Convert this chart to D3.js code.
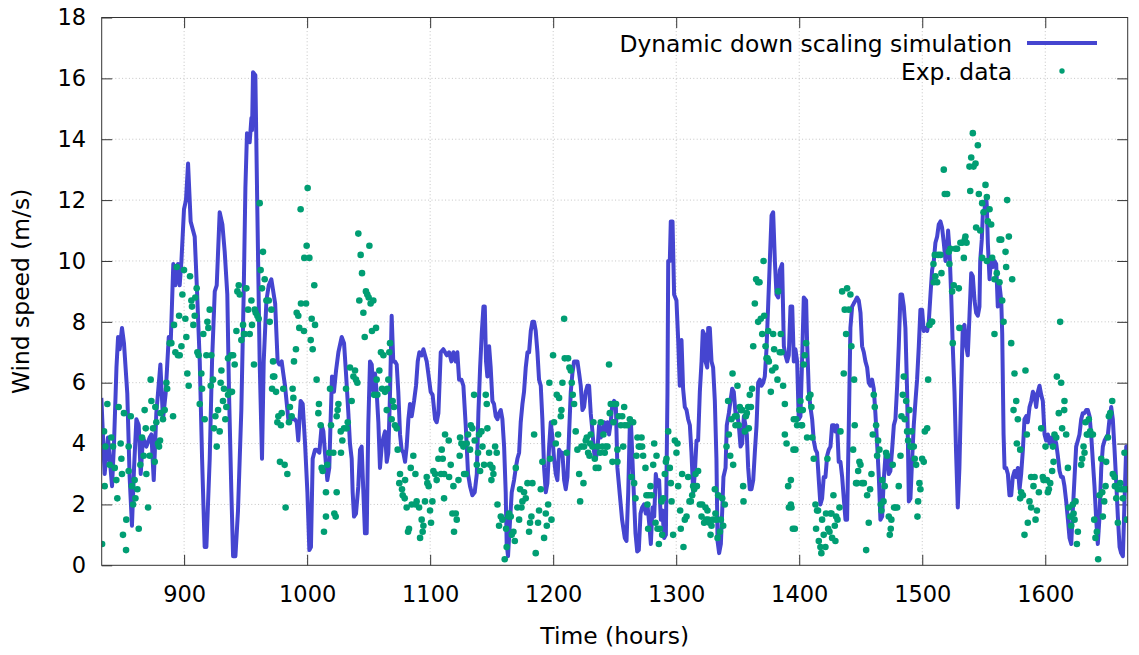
<!DOCTYPE html>
<html>
<head>
<meta charset="utf-8">
<script src="https://cdn.jsdelivr.net/npm/d3@7"></script>
<style>
  html, body { margin: 0; padding: 0; background: #fff; }
  svg { display: block; font-family: "DejaVu Sans", sans-serif; }
  .axis text { font-size: 22.5px; fill: #000; }
  .axis line { stroke: #333; }
  .grid line { stroke: #c4c4c4; stroke-dasharray: 1,2.4; }
</style>
</head>
<body>
<div class="chart"></div>
<script>
// values: [hour, wind speed m/s]
const simulation = [
  [832.7,5.5],[835.4,3.0],[838.1,4.2],[841.4,2.6],[843,4.0],[845,6.5],[846.3,7.5],[847.6,7.1],[849.5,7.8],[851.1,7.3],
  [853.8,5.65],[855.7,2.9],[857.6,1.3],[859.3,3.2],[861.2,4.8],[863.1,4.6],[864.7,3.0],[866.6,4.2],[869.3,3.9],[872,4.2],
  [873.4,4.3],[875.3,2.8],[877.4,5.0],[880.7,6.6],[882.8,4.8],[885,5.65],[887.5,7.5],[889.1,7.3],[891.2,9.9],[892.9,9.2],
  [895,9.9],[896.4,9.2],[897.8,10.0],[899.9,11.7],[901.5,12.0],[903.2,13.2],[905.3,11.3],[908.6,10.8],[910.5,9.0],[912.7,6.7],
  [914.6,3.5],[916.7,0.6],[918.1,0.6],[920.8,3.5],[922.7,6.7],[924.9,9.0],[926.5,9.2],[928.9,11.6],[931.1,11.2],[933,10.3],
  [935.1,8.9],[936.5,5.65],[938.4,2.4],[939.8,0.3],[941.7,0.3],[943.8,1.8],[946.5,5.1],[948.4,8.9],[949.8,12.4],[951.1,14.2],
  [953.3,13.9],[954.7,14.7],[955.2,14.3],[956,16.2],[957.9,16.1],[959.5,11.7],[961.4,6.7],[963.3,3.5],[964.7,6.7],[966.9,8.7],
  [968.8,9.2],[970.9,9.4],[974,8.6],[976,6.7],[977.4,6.6],[979.3,6.7],[980.6,6.3],[982,5.9],[984.7,4.8],[987.4,4.8],
  [990,4.8],[991.5,4.7],[992.8,4.1],[994.7,5.4],[996.4,5.3],[998.3,4.0],[1000.2,2.4],[1001.8,0.5],[1003.1,0.6],[1004.5,3.5],
  [1006.4,3.8],[1007.7,3.8],[1009.9,3.7],[1011.8,4.6],[1013.2,4.4],[1014.5,3.7],[1016.4,2.8],[1018,3.2],[1019.1,4.8],[1020.2,6.2],
  [1021.8,5.7],[1023.5,6.4],[1025.4,7.0],[1028.1,7.5],[1030,7.3],[1031.6,6.3],[1033.5,5.0],[1034.8,4.0],[1036.2,3.5],[1037,2.4],
  [1038.1,1.6],[1039.7,1.7],[1041.6,2.6],[1043,3.8],[1044.3,3.9],[1045.7,2.4],[1047,1.05],[1048.4,1.05],[1049.7,4.6],[1051.1,6.7],
  [1052.5,6.6],[1053.8,5.7],[1055.2,6.3],[1056.5,5.7],[1057.9,4.7],[1059.2,3.2],[1060.6,3.9],[1062,4.2],[1063.3,4.4],[1064.7,3.4],
  [1066,3.7],[1067.4,5.7],[1068.7,8.2],[1070,6.7],[1071.4,6.7],[1072.8,6.6],[1074.1,5.7],[1075.5,4.3],[1076.8,3.8],[1078.2,3.7],
  [1079.6,3.4],[1080.9,3.9],[1082.3,4.8],[1083.6,5.3],[1085,4.9],[1086.9,5.4],[1088.5,5.9],[1089.9,6.7],[1091.2,7.0],[1093.1,6.9],
  [1094.5,7.1],[1095.8,6.9],[1097.2,6.7],[1098.5,6.3],[1100.4,5.7],[1102,5.6],[1104,4.8],[1105.3,4.7],[1106.7,5.0],[1108.6,7.0],
  [1110.7,7.1],[1113.5,6.9],[1115.4,7.0],[1117.3,6.7],[1118.9,7.0],[1120.8,6.7],[1122.1,7.0],[1123.5,6.1],[1125.4,6.1],[1127,5.9],
  [1128.9,4.6],[1130.8,3.0],[1132.4,2.6],[1134.3,2.3],[1136.2,2.4],[1137.9,3.0],[1139.2,5.0],[1140.6,6.5],[1141.9,7.6],[1143.3,8.5],
  [1144.4,8.5],[1145.4,6.7],[1146.5,6.2],[1147.9,7.2],[1149.2,6.5],[1150.6,5.4],[1151.9,5.3],[1153.3,4.9],[1154.7,4.8],[1156,5.0],
  [1157.4,5.1],[1158.7,4.8],[1160.1,3.9],[1161.4,2.4],[1162.2,0.7],[1163.3,0.3],[1164.7,1.3],[1166.3,2.4],[1168.2,2.8],[1169.6,3.2],
  [1170.9,3.5],[1172.3,3.7],[1173.6,4.7],[1175,5.3],[1176.3,5.7],[1177.7,6.5],[1179.1,7.0],[1180.4,7.0],[1181.8,7.7],[1183.1,8.0],
  [1184.5,8.0],[1185.8,7.7],[1187.2,7.0],[1188.5,6.1],[1189.9,5.9],[1191.2,4.8],[1192.6,3.2],[1194,2.4],[1195.3,2.7],[1196.7,3.9],
  [1198,4.7],[1199.4,4.2],[1200.7,3.5],[1202.1,3.0],[1203.4,2.8],[1204.8,3.8],[1206.2,3.7],[1207.5,3.7],[1208.9,2.8],[1210.2,2.5],
  [1211.6,2.9],[1212.9,4.3],[1214.3,5.7],[1215.6,6.3],[1217,6.7],[1218.3,6.7],[1219.7,6.7],[1221.1,6.3],[1222.4,5.9],[1223.8,5.1],
  [1225.1,5.2],[1226.5,5.7],[1227.8,5.9],[1229.2,5.9],[1230.5,5.0],[1231.9,4.4],[1233.3,3.7],[1234.6,3.5],[1236,3.8],[1237.3,4.6],
  [1238.7,4.2],[1240,4.4],[1241.4,4.7],[1242.7,4.4],[1244.1,4.7],[1245.4,4.3],[1246.8,4.7],[1248.1,5.3],[1249.5,5.4],[1250.9,5.3],
  [1252.2,3.2],[1254.2,2.3],[1256,1.5],[1258.2,0.9],[1259.6,0.8],[1261,2.4],[1262.3,4.6],[1263.1,4.8],[1264.2,3.7],[1265.5,2.4],
  [1266.9,1.05],[1268.3,0.45],[1269.6,0.5],[1271,1.7],[1272.3,1.9],[1273.9,2.0],[1275.3,1.7],[1276.6,2.0],[1278,1.4],[1279.4,0.7],
  [1280.7,1.9],[1282.1,1.6],[1283.4,3.0],[1284.8,2.6],[1286.1,2.8],[1287.5,1.5],[1288.8,1.8],[1290.2,0.9],[1291.6,1.0],[1292.9,5.7],
  [1293.5,10.0],[1294.8,10.0],[1295.6,11.3],[1297,11.3],[1298.3,8.9],[1300.2,8.7],[1301.6,7.4],[1302.9,5.9],[1304.3,7.4],[1305.6,5.8],
  [1307,5.2],[1308.4,5.1],[1309.7,4.8],[1311.1,4.6],[1312.4,3.7],[1313.8,2.4],[1315.1,3.0],[1316.5,4.1],[1317.8,4.1],[1319.2,5.7],
  [1320.6,6.7],[1321.6,7.7],[1322.7,7.6],[1323.8,6.7],[1325.2,6.5],[1326,7.8],[1327.3,7.8],[1328.7,6.7],[1330,6.5],[1331.4,5.4],
  [1332.7,3.5],[1333.6,0.8],[1334.9,0.4],[1336.3,0.7],[1337.4,1.8],[1338.4,2.9],[1340.1,3.2],[1341.1,4.6],[1342.8,5.0],[1344.1,5.4],
  [1345.5,5.8],[1346.8,5.7],[1348.2,5.0],[1349.5,5.0],[1350.9,4.6],[1352.3,3.9],[1353.6,4.0],[1355,4.9],[1356.3,4.6],[1357.4,4.3],
  [1358.5,3.2],[1359.8,2.5],[1361.2,2.5],[1362.6,2.8],[1363.9,3.7],[1365.3,4.6],[1366.6,6.0],[1368,6.1],[1369.3,5.9],[1370.7,6.0],
  [1372,6.2],[1373.4,7.1],[1374.8,8.6],[1376.1,10.0],[1377.5,11.5],[1378.8,11.6],[1380.2,10.0],[1381.5,8.9],[1382.9,8.8],[1384.2,9.7],
  [1386.1,9.9],[1387.5,7.2],[1388.8,6.9],[1390.2,6.7],[1391.5,6.9],[1392.9,8.5],[1394.3,8.5],[1395.6,6.7],[1396.9,7.1],[1398.3,6.7],
  [1399.6,4.8],[1401,4.9],[1402.3,6.7],[1403.7,8.8],[1405.6,8.7],[1406.4,7.3],[1407.8,5.7],[1409.1,5.2],[1410.5,4.8],[1411.8,4.1],
  [1413.2,3.8],[1414.5,3.7],[1415.9,2.8],[1417.2,2.0],[1418.6,2.2],[1419.9,2.9],[1421.3,2.9],[1422.7,3.6],[1424,3.8],[1425.4,3.9],
  [1426.7,4.6],[1428.1,4.6],[1429.4,4.4],[1430.8,4.6],[1432.1,3.4],[1433.5,3.4],[1434.9,2.9],[1436.2,2.2],[1437.6,1.5],[1438.9,1.5],
  [1440.3,4.6],[1441.6,7.8],[1443,8.5],[1444.3,8.6],[1445.7,8.7],[1447,8.8],[1448.4,8.7],[1449.8,8.3],[1451.1,7.2],[1452.5,7.0],
  [1453.8,6.7],[1455.2,6.5],[1456.5,6.0],[1457.9,5.9],[1459.2,6.1],[1460.6,5.8],[1461.9,5.0],[1463.3,4.0],[1464.7,2.9],[1466,1.5],
  [1467.4,1.6],[1468.7,2.8],[1470.1,3.6],[1471.4,3.7],[1472.8,3.0],[1474.1,3.1],[1475.5,3.8],[1476.9,4.6],[1478.2,4.8],[1479.6,5.9],
  [1480.9,7.2],[1482.3,8.9],[1483.6,8.9],[1485,8.5],[1486.3,7.8],[1487.7,5.7],[1489.1,2.1],[1490.4,2.2],[1491.8,3.5],[1493.1,4.6],
  [1494.5,5.4],[1495.8,6.1],[1497.2,7.2],[1498.5,8.4],[1499.9,8.4],[1501.2,7.7],[1502.6,7.8],[1504,7.7],[1505.3,8.0],[1506.7,8.9],
  [1508,9.7],[1509.4,10.0],[1510.7,10.6],[1512.1,10.8],[1513.4,11.2],[1514.8,11.3],[1516.1,11.1],[1517.5,10.6],[1518.9,10.0],[1520.2,10.4],
  [1521,11.0],[1522.1,10.4],[1523.5,8.9],[1524.8,7.2],[1526.2,5.7],[1527.5,3.7],[1528.9,1.9],[1530.2,3.2],[1531.6,5.7],[1532.9,7.8],
  [1534.3,7.9],[1535.7,7.2],[1537,6.9],[1538.4,8.2],[1539.8,9.6],[1541.1,9.5],[1542.5,8.7],[1543.8,8.3],[1545.2,8.2],[1546.5,8.5],
  [1547.1,10.0],[1548.4,10.7],[1549.3,11.6],[1550.6,11.7],[1552,12.1],[1552.5,11.8],[1553.3,10.6],[1554.7,9.4],[1556,10.1],[1557.4,9.8],
  [1558.7,10.0],[1560.1,9.9],[1561.4,8.5],[1562.8,9.2],[1564.2,8.7],[1565,7.6],[1566.1,4.3],[1566.9,3.2],[1568.2,3.2],[1569.6,3.0],
  [1570.9,2.3],[1572.3,2.3],[1573.6,2.9],[1575,3.1],[1576.4,2.9],[1577.7,3.2],[1579.1,2.5],[1580.4,3.0],[1581.8,3.8],[1583.1,4.8],
  [1584.5,4.9],[1585.8,4.7],[1587.2,5.2],[1588.6,5.4],[1589.9,5.7],[1591.3,5.6],[1592.6,5.2],[1594,5.7],[1595.3,5.9],[1596.7,5.6],
  [1598,5.4],[1599.4,4.3],[1600.7,4.1],[1602.1,4.3],[1603.5,4.0],[1604.8,4.2],[1606.2,3.9],[1607.5,4.2],[1608.9,4.0],[1610.2,3.6],
  [1611.6,3.1],[1612.9,2.9],[1614.3,2.9],[1615.6,2.6],[1617,2.1],[1618.4,1.5],[1619.7,0.9],[1621.1,0.7],[1622.4,1.8],[1623.8,2.9],
  [1625.1,3.9],[1626.5,4.1],[1627.8,4.3],[1629.2,4.8],[1630.5,5.0],[1631.9,5.0],[1633.3,5.1],[1634.6,5.1],[1636,4.9],[1637.3,4.3],
  [1638.7,3.4],[1640,2.6],[1641.4,1.5],[1642.7,0.7],[1644.1,1.6],[1645.5,3.2],[1646.8,3.9],[1648.2,4.1],[1649.5,4.2],[1650.9,4.3],
  [1652.2,4.8],[1653.6,5.2],[1654.9,4.8],[1656.3,3.8],[1657.7,2.7],[1659,1.6],[1660.4,0.6],[1661.7,0.4],[1663.1,0.3],[1664.4,2.1],
  [1665.8,3.9],[1667.1,3.9]
];

const experiment = [
  [833.3,0.7],[835.4,2.6],[837.6,5.3],[834.9,4.4],[836,3.9],[840.8,4.2],[842.2,3.9],[839.5,3.3],[843.6,3.2],[844.9,2.8],
  [845.7,2.2],[846.8,5.2],[848.4,4.0],[849,3.5],[849.5,3.0],[851.1,5.0],[850.3,1.0],[853,1.5],[852.8,0.5],[854.9,3.9],
  [854.9,3.1],[856.6,4.9],[857.6,2.6],[858.5,2.0],[859.8,2.8],[860.4,2.2],[862,2.5],[863.1,1.2],[864.4,3.3],[865.8,4.2],
  [867.1,3.6],[867.9,5.1],[868.8,4.5],[869.3,3.0],[870.7,1.9],[872,3.6],[872.8,6.1],[873.4,5.4],[874.7,4.5],[876.6,5.2],
  [876.1,3.4],[877.4,4.7],[878.8,4.0],[879.6,3.9],[880.4,4.1],[880.9,5.0],[882.8,4.8],[884.2,5.1],[885.6,6.0],[886.2,5.8],
  [888.3,7.3],[889.6,7.3],[891,4.9],[891.8,7.9],[892.9,7.0],[894,9.8],[895,6.9],[896.4,6.9],[895.9,8.2],[897.8,7.2],
  [898.6,8.9],[899.9,9.7],[901,8.1],[901.8,7.5],[902.6,6.3],[903.7,5.9],[904.8,9.5],[905.9,8.7],[906.4,8.5],[907.5,7.9],
  [908.6,8.2],[909.1,8.8],[910.2,9.1],[910.8,7.0],[911.8,6.9],[912.7,5.3],[914,6.3],[914.6,5.8],[915.6,7.6],[916.7,4.8],
  [918.1,6.9],[918.9,8.0],[919.7,7.8],[920.8,8.4],[921.6,5.9],[922.1,6.9],[923.5,6.1],[924.3,4.5],[925.4,4.9],[926.5,3.9],
  [927.6,5.1],[928.9,4.4],[929.7,6.0],[930.3,6.4],[931.6,5.4],[932.4,5.8],[933.5,4.8],[934.3,5.2],[935.7,6.8],[935.7,5.6],
  [937,5.7],[938.4,6.9],[938.9,5.7],[939.8,6.9],[941.1,6.6],[942.5,7.7],[943.3,9.0],[944.4,9.2],[945.2,8.9],[946.5,7.4],
  [947.9,7.9],[948.7,7.6],[949.2,7.6],[950.6,9.1],[952,8.4],[953.3,7.6],[954.7,8.7],[955.2,7.9],[956.8,6.6],[957.4,8.4],
  [958.2,8.3],[959.5,8.2],[960.6,8.1],[961.4,11.9],[962.2,9.7],[963.3,9.1],[964.1,10.3],[965.5,9.4],[966.9,8.7],[968.8,8.7],
  [969.6,8.0],[970.9,8.4],[972.3,6.7],[972.3,6.2],[971.5,5.8],
  [1000.4,12.4],[994.7,11.7],[999.6,10.5],[997.7,10.1],[1001.8,10.1],[1005.8,9.2],[995,8.6],[999.1,8.6],[991.5,8.3],[992.8,8.2],
  [993.6,7.8],[997.4,7.7],[1003.7,8.1],[1006.4,7.9],[1002.9,7.4],[1004.5,7.1],[990.9,7.1],[989.3,6.7],[973.3,6.2],[974.7,5.7],
  [980.6,5.8],[976.6,4.9],[979.3,5.0],[975.8,4.7],[978.7,4.6],[986,5.2],[987.4,4.9],[985.2,4.7],[988.2,5.8],[988.8,5.5],
  [1007.7,6.1],[1009.6,5.3],[1009.1,5.0],[1011,4.6],[1018.6,5.8],[1019.4,4.6],[1025.4,5.3],[1024.8,5.1],[1024,4.9],[1031.6,5.8],
  [1033,4.7],[1034.8,6.5],[1036.2,5.4],[1038.9,6.4],[1037.6,6.2],[1039.7,6.1],[1040.8,6.0],[1030,4.5],[1027.3,4.4],[1028.6,4.1],
  [1032.1,4.5],[1041.6,10.9],[1043.5,10.2],[1050.6,10.5],[1044.6,9.6],[1047.8,9.0],[1048.9,8.9],[1050,8.8],[1042.4,8.7],[1051.6,8.6],
  [1053.8,8.7],[1045.7,8.3],[1056,7.8],[1052.7,7.7],[1046.8,7.5],[1060,7.0],[1062,6.9],[1067.4,7.3],[1066.8,7.0],[1058.7,6.4],
  [1056.5,6.1],[1054.4,5.6],[1057.1,5.6],[1060.9,5.8],[1063.3,5.7],[1065.2,5.8],[1066,6.1],[1069.5,5.4],[1070.6,5.2],[1064.7,5.1],
  [1068.7,4.8],[1071.4,4.6],[1072.8,4.5],[1073.6,3.8],[977.9,3.4],[981.7,3.3],[983.9,3.0],[982.5,1.9],[1012.6,3.1],[1011.8,3.2],
  [1016.4,3.3],[1018,3.7],[1021.3,3.7],[1027.5,3.7],[1015.3,2.4],[1024,2.4],[1022.1,1.7],[1023.2,1.6],[1015.3,1.6],[1013.7,1.1],
  [1075.5,3.0],[1074.9,2.7],[1079.6,2.8],[1077.1,2.5],[1077.7,2.3],[1079.3,2.2],[1080.9,1.9],[1084.2,3.2],[1086.3,3.6],[1088,3.0],
  [1085,2.0],[1089,2.1],[1091,1.9],[1088.2,2.0],[1095.8,2.1],[1101.8,2.1],[1099.9,1.8],[1093.1,1.5],[1094.5,1.3],[1093.9,1.1],
  [1091.8,0.9],[1100.7,1.4],[1082.8,1.2],[1082,1.1],[1097.2,2.9],[1098.8,2.6],[1097.7,2.7],[1102.6,3.1],[1104,3.0],[1105.3,2.8],
  [1106.7,3.5],[1108.8,3.0],[1111.3,3.0],[1110.2,3.5],[1109.4,3.8],[1111.3,2.2],[1112.1,4.3],
  [1115.1,4.1],[1116.7,3.3],[1115.4,2.9],[1118.9,2.6],[1123,2.8],[1118.1,1.7],[1120.8,1.7],[1121.6,1.5],[1119.4,1.1],[1124.3,4.2],
  [1125.4,4.0],[1127,3.9],[1127.6,3.0],[1128.9,3.0],[1129.7,4.0],[1130.8,4.3],[1133,4.6],[1134.3,4.5],[1132.4,3.8],[1124,3.6],
  [1135.7,5.6],[1136.2,4.1],[1137.9,3.3],[1138.9,3.7],[1139.8,4.3],[1140.6,3.1],[1141.7,4.4],[1142.5,3.9],[1143.8,3.3],[1145.2,5.6],
  [1146,5.3],[1146.5,4.5],[1147.9,3.7],[1148.7,3.3],[1150.6,3.2],[1151.4,3.0],[1149.8,2.8],[1152.8,3.9],[1154.1,3.7],[1154.7,2.0],
  [1156,1.3],[1157.4,1.6],[1158.7,1.5],[1160.6,0.2],[1162.2,0.6],[1161.7,1.2],[1163.6,1.6],[1164.1,1.7],[1165.5,1.6],[1166.3,1.0],
  [1167.7,1.1],[1168.8,0.8],[1169.6,3.2],[1170.9,1.9],[1172.3,1.5],[1173.1,2.5],[1174.2,1.9],[1175,2.1],[1176.3,2.4],[1177.7,2.2],
  [1179.1,2.7],[1180.4,1.1],[1181.2,1.4],[1182.3,1.6],[1183.1,2.7],[1184.5,4.3],[1185.8,0.4],[1187.7,1.4],[1188.5,1.8],[1189.9,2.5],
  [1191.2,3.4],[1192.6,0.9],[1194,1.7],[1194.8,1.3],[1195.9,2.0],[1197.5,3.5],[1198.6,1.5],[1196.9,6.0],[1199.9,6.9],[1200.7,4.7],
  [1202.1,4.0],[1202.9,5.6],[1204,4.3],[1204.8,5.5],[1206.2,4.9],[1206.7,5.1],[1207.5,6.0],[1208.9,8.1],[1209.4,6.8],[1211,3.7],
  [1212.1,6.8],[1213.2,6.5],[1214.3,6.4],[1215.1,6.0],[1215.9,5.6],[1217,5.3],[1218.3,4.4],[1219.7,3.8],[1221.1,3.0],[1221.9,2.1],
  [1223,3.9],[1224.6,2.7],[1225.1,3.9],[1226.5,4.1],[1227.3,4.2],[1228.4,3.7],[1229.5,3.6],[1230,4.0],[1230.5,4.3],[1231.9,3.9],
  [1232.7,4.7],[1233.8,3.5],[1234.6,3.2],[1236,3.9],[1236.8,3.2],[1238.1,3.7],[1238.7,4.7],[1240,3.9],[1240.8,4.3],[1241.9,3.7],
  [1242.7,3.9],[1244.1,3.9],[1245.4,6.6],[1246,5.0],[1246.8,5.3],[1248.2,3.4],[1249,4.7],[1250,5.3],[1251.1,5.3],[1252.2,3.4],
  [1252.2,3.8],[1253.3,4.9],
  [1257.7,5.2],[1256.1,4.9],[1255,4.6],[1258.2,4.6],[1260.4,4.6],[1262.3,4.8],[1265,4.7],[1263.6,2.9],[1265.8,2.7],[1256.9,3.9],
  [1266.9,2.2],[1268.5,4.2],[1269.6,3.9],[1270.4,3.9],[1271.8,4.2],[1272.3,3.9],[1267.7,3.6],[1273.1,3.6],[1275,3.2],[1275.8,2.3],
  [1276.6,2.0],[1277.7,2.3],[1277.2,1.2],[1279.1,2.6],[1279.9,2.3],[1281.3,3.3],[1282.1,4.0],[1283.2,1.4],[1284,3.6],[1284.8,1.2],
  [1285.9,0.7],[1286.7,1.2],[1288,2.1],[1288.6,1.0],[1289.4,2.2],[1290.7,3.0],[1291.6,3.4],[1292.1,3.5],[1293.5,4.4],[1294.8,3.2],
  [1295.6,2.7],[1296.2,2.1],[1297.5,1.0],[1298.9,4.1],[1300.2,3.7],[1301,4.0],[1301.6,2.6],[1303.2,1.8],[1303.7,1.2],[1304.8,3.0],
  [1305.9,0.6],[1307,1.5],[1308.4,1.6],[1309.7,2.9],[1310.8,2.1],[1311.9,2.1],[1313,2.3],[1313.8,2.6],[1314.6,2.5],[1315.7,3.0],
  [1316.8,2.6],[1317.8,3.1],[1319.2,2.0],[1320.6,1.6],[1321.1,2.0],[1322.7,1.4],[1323.8,1.9],[1324.3,1.5],[1325.4,1.8],[1326,1.5],
  [1327,1.4],[1327.9,1.0],[1328.7,1.3],[1330,1.5],[1331.4,2.5],[1331.9,1.7],[1332.7,1.5],[1333.6,0.9],[1334.1,2.3],[1335.5,1.1],
  [1336.3,1.5],[1337.4,2.2],[1338.2,1.3],[1339.5,2.0],[1340.9,3.9],[1342.2,5.4],[1342.8,4.3],[1343.9,3.6],[1344.9,4.8],[1345.8,6.3],
  [1346.3,3.3],[1347.7,4.9],[1348.2,4.6],[1349,4.9],[1349.8,5.9],[1350.9,4.6],[1351.7,5.2],[1352.5,5.1],[1353.6,5.1],[1354.4,2.6],
  [1354.7,2.1],[1355.8,4.4],[1356.6,4.9],[1357.4,5.0],[1358.5,5.2],[1359,4.5],[1359.8,5.6],[1360.7,5.2],[1361.7,5.8],[1362.6,7.2],
  [1363.9,8.6],[1365,9.4],[1366.6,9.3],[1367.7,9.3],[1366.6,8.0],[1368.8,8.1],[1369.9,7.6],[1371,10.0],[1371.5,8.2],[1372.6,7.2],
  [1373.4,6.8],[1374.2,6.8],[1374.8,7.7],[1375.3,6.7],[1376.9,5.7],[1378,6.4],[1378.8,7.6],[1379.6,7.1],[1380.7,6.5],[1382.3,6.1],
  [1382.9,9.0],[1384.2,7.0],[1385,7.6],[1385.6,7.0],[1386.9,5.9],[1388.3,5.3],[1388.3,4.3],[1389.7,4.0],[1391,2.6],[1391.6,1.9],
  [1393.2,2.8],[1393.2,2.0],[1393.7,1.9],[1394.8,1.2],[1395.3,3.8],[1395.6,4.8],
  [1396.4,1.2],[1396.9,3.8],[1397.5,4.8],[1398.3,4.6],[1400.2,5.1],[1401,5.4],[1401.8,4.6],[1402.3,4.6],[1402.9,5.1],[1403.7,6.6],
  [1404.5,6.9],[1405.6,7.3],[1406.4,4.2],[1407.8,5.5],[1409.1,5.6],[1409.9,5.2],[1410.5,4.2],[1411.8,3.5],[1413.2,2.0],[1413.7,1.2],
  [1414.5,1.8],[1415.3,1.8],[1415.9,0.8],[1417.2,0.6],[1418,0.4],[1418.6,1.5],[1419.9,1.0],[1421.3,0.6],[1421.8,1.7],[1422.9,3.5],
  [1423.5,1.2],[1424.6,1.1],[1425.4,1.7],[1426.2,1.7],[1426.7,0.9],[1427.8,2.3],[1428.9,1.3],[1429.4,0.8],[1430,1.6],[1431.1,1.5],
  [1432.7,1.9],[1433.5,4.4],[1434.9,9.0],[1436.2,6.3],[1437,8.4],[1438.1,7.6],[1438.9,9.1],[1440.3,8.4],[1441.6,8.9],[1442.4,7.2],
  [1443.8,3.8],[1444.6,6.1],[1445.1,4.6],[1446.2,2.7],[1447,2.7],[1447.9,3.1],[1448.9,3.4],[1449.8,3.3],[1451.1,2.7],[1452.5,2.7],
  [1454.4,0.5],[1455.2,2.3],[1456.5,1.4],[1457.6,2.5],[1458.7,3.0],[1459.8,4.3],[1460.6,5.6],[1461.4,5.2],[1462.5,4.6],[1463.3,3.6],
  [1464.1,4.1],[1465.2,3.8],[1466.3,2.0],[1466.8,1.8],[1467.4,2.8],[1468.5,2.1],[1469.5,2.6],[1470.6,3.7],[1471.4,3.6],[1472.8,1.6],
  [1473.6,1.0],[1474.4,1.2],[1474.9,1.5],[1476,3.3],[1477.1,1.9],[1478.2,1.9],[1479.6,1.9],[1480.9,2.6],[1482.3,3.6],[1483.1,4.9],
  [1484.2,5.6],[1485,6.2],[1485.8,4.8],[1486.9,5.4],[1487.7,4.4],[1488.5,4.1],[1489.6,5.1],[1490.4,3.9],[1491.2,4.4],[1491.8,3.9],
  [1493.1,3.9],[1493.9,3.5],[1495,3.3],[1496.1,1.6],[1496.6,2.1],[1497.7,2.7],[1498.5,2.5],[1499.9,3.5],[1501.2,3.4],[1502.1,4.4],
  [1504,4.5],[1504.8,6.1],[1505.9,7.9],[1507.5,8.0],[1508,8.0],[1509.1,9.9],[1509.4,9.3],[1510.2,10.2],[1510.7,9.5],[1512.1,9.3],
  [1512.9,10.2],[1514.8,10.2],[1515.6,9.6],[1517.5,13.0],[1518.3,12.2],[1520.2,12.2],[1521.6,10.3],[1522.1,9.9],[1522.9,10.4],[1524.3,9.0],
  [1524.8,7.3],[1525.6,9.2],[1527,10.4],[1528.3,10.4],[1529.7,9.1],[1530.2,7.8],[1531,10.6],[1532.4,10.6],[1533.8,10.1],[1534.6,10.7],
  [1535.1,10.8],[1536,10.6],
  [1541.1,14.2],[1545.2,13.8],[1539.8,13.4],[1538.4,13.1],[1541.7,13.1],[1543.3,13.2],[1539,12.3],[1546,12.2],[1551.4,12.5],[1552.5,12.1],
  [1548.7,11.9],[1549.8,11.6],[1554.7,11.7],[1553.3,11.3],[1556,11.2],[1543.8,11.1],[1547.1,11.0],[1548.7,10.1],[1552.5,10.0],[1556.8,10.1],
  [1569,12.0],[1562.8,10.7],[1564.2,10.7],[1570.4,10.8],[1567.7,10.3],[1568.2,9.8],[1560.6,9.6],[1558.7,9.4],[1562.8,9.3],[1573.1,9.4],
  [1565,8.7],[1566.1,8.0],[1558.7,7.6],[1572.3,7.3],[1575,6.3],[1583.9,6.4],[1576.4,5.4],[1574.2,5.1],[1577.7,4.8],[1576.9,4.0],
  [1579.6,3.8],[1585,4.3],[1580.4,2.4],[1581.8,2.3],[1579.6,2.2],[1583.1,1.0],[1585.8,1.4],[1587.2,2.1],[1588.5,1.9],[1588.5,2.9],
  [1591.3,2.9],[1590.4,2.6],[1592.1,1.5],[1593.2,1.8],[1594.8,2.4],[1596.7,4.5],[1598,2.9],[1598.6,2.8],[1600.2,3.9],[1601.3,2.8],
  [1602.1,2.4],[1602.9,2.5],[1604,2.7],[1605.6,3.1],[1606.7,3.4],[1607.5,4.3],[1608.9,4.2],[1606.2,3.9],[1609.4,6.2],[1612.9,6.0],
  [1612.1,8.0],[1611,5.0],[1613.7,4.5],[1615.6,5.4],[1615.4,5.1],[1617,4.3],[1618.4,3.2],[1619.2,1.9],[1620.3,1.6],[1621.1,1.3],
  [1622.4,2.0],[1623,1.7],[1623.8,1.5],[1624.6,2.1],[1626.5,1.1],[1625.7,0.7],[1629.2,3.3],[1630,3.5],[1631.1,3.9],[1631.9,3.7],
  [1632.7,4.7],[1633.8,4.3],[1634.6,4.3],[1635.4,4.8],[1636.5,4.4],[1637.3,4.3],[1638.7,4.3],[1639.8,1.5],[1640.8,0.9],[1641.9,1.1],
  [1643,0.2],[1644.1,2.3],[1645.5,3.5],[1646.3,2.4],[1646.8,1.6],[1647.9,2.1],[1649,2.6],[1649.5,3.4],[1650.9,4.2],[1651.7,4.9],
  [1652.8,5.0],[1654.4,5.4],[1654.9,3.0],[1656.3,2.9],[1656.6,2.6],[1657.7,2.2],[1659,1.4],[1659.3,2.5],[1660.9,2.7],[1661.7,2.5],
  [1663.1,2.2],[1663.6,2.5],[1664.4,3.7],[1665.8,2.5],[1666.3,1.5]
];

const xTicks = [900, 1000, 1100, 1200, 1300, 1400, 1500, 1600];
const yTicks = [0, 2, 4, 6, 8, 10, 12, 14, 16, 18];
const seriesNames = ["Dynamic down scaling simulation", "Exp. data"];
const colors = ["#4545d0", "#009e73"];

const w = 1139,
      h = 655,
      plotLeft = 101.7,
      plotRight = 1127.7,
      plotTop = 17.5,
      plotBottom = 565.3,
      labelSize = 23.4;

const svg = d3.select(".chart")
  .append("svg")
  .attr("width", w)
  .attr("height", h);

const xScale = d3.scaleLinear()
  .domain([833, 1667])
  .range([plotLeft, plotRight]);
const yScale = d3.scaleLinear()
  .domain([0, 18])
  .range([plotBottom, plotTop]);

// dotted grid
svg.append("g")
  .attr("class", "grid")
  .selectAll("line")
  .data(xTicks)
  .enter()
  .append("line")
  .attr("x1", (d) => xScale(d))
  .attr("x2", (d) => xScale(d))
  .attr("y1", plotTop)
  .attr("y2", plotBottom);
svg.append("g")
  .attr("class", "grid")
  .selectAll("line")
  .data(yTicks.filter((d) => d > 0 && d < 18))
  .enter()
  .append("line")
  .attr("x1", plotLeft)
  .attr("x2", plotRight)
  .attr("y1", (d) => yScale(d))
  .attr("y2", (d) => yScale(d));

// axes, ticks pointing inward and mirrored
const tick = 10.5;
const xAxis = d3.axisBottom(xScale).tickValues(xTicks).tickSize(-tick).tickPadding(21.2).tickFormat(d3.format("d"));
const yAxis = d3.axisLeft(yScale).tickValues(yTicks).tickSize(-tick).tickPadding(15.5).tickFormat(d3.format("d"));
svg.append("g")
  .attr("class", "axis")
  .attr("transform", "translate(0," + plotBottom + ")")
  .call(xAxis);
svg.append("g")
  .attr("class", "axis")
  .attr("transform", "translate(" + plotLeft + ",0)")
  .call(yAxis);
svg.append("g")
  .attr("class", "axis")
  .attr("transform", "translate(0," + plotTop + ")")
  .call(d3.axisTop(xScale).tickValues(xTicks).tickSize(-tick).tickFormat(""));
svg.append("g")
  .attr("class", "axis")
  .attr("transform", "translate(" + plotRight + ",0)")
  .call(d3.axisRight(yScale).tickValues(yTicks.filter((d) => d > 0 && d < 18)).tickSize(-tick).tickFormat(""));
svg.selectAll(".axis .domain").remove();
svg.selectAll(".axis").attr("font-family", null).attr("font-size", null);

// plotted data, clipped to the frame
svg.append("clipPath")
  .attr("id", "plot-clip")
  .append("rect")
  .attr("x", plotLeft)
  .attr("y", plotTop)
  .attr("width", plotRight - plotLeft)
  .attr("height", plotBottom - plotTop);

const plot = svg.append("g").attr("clip-path", "url(#plot-clip)");

const line = d3.line()
  .x((d) => xScale(d[0]))
  .y((d) => yScale(d[1]));

plot.append("path")
  .datum(simulation)
  .attr("d", line)
  .attr("fill", "none")
  .attr("stroke", colors[0])
  .attr("stroke-width", 4)
  .attr("stroke-linejoin", "round");

plot.selectAll("circle")
  .data(experiment)
  .enter()
  .append("circle")
  .attr("cx", (d) => xScale(d[0]))
  .attr("cy", (d) => yScale(d[1]))
  .attr("r", 3.3)
  .attr("fill", colors[1]);

// frame
svg.append("rect")
  .attr("x", plotLeft)
  .attr("y", plotTop)
  .attr("width", plotRight - plotLeft)
  .attr("height", plotBottom - plotTop)
  .attr("fill", "none")
  .attr("stroke", "#333")
  .attr("stroke-width", 1);

// axis titles
svg.append("text")
  .attr("x", (plotLeft + plotRight) / 2)
  .attr("y", 644)
  .attr("text-anchor", "middle")
  .attr("font-size", labelSize)
  .text("Time (hours)");
svg.append("text")
  .attr("transform", "translate(28.5," + ((plotTop + plotBottom) / 2) + ") rotate(-90)")
  .attr("text-anchor", "middle")
  .attr("font-size", labelSize)
  .text("Wind speed (m/s)");

// key
const key = svg.append("g");
key.append("text")
  .attr("x", 1012)
  .attr("y", 51.5)
  .attr("text-anchor", "end")
  .attr("font-size", labelSize)
  .text(seriesNames[0]);
key.append("line")
  .attr("x1", 1027)
  .attr("x2", 1097)
  .attr("y1", 43)
  .attr("y2", 43)
  .attr("stroke", colors[0])
  .attr("stroke-width", 4);
key.append("text")
  .attr("x", 1012)
  .attr("y", 79.5)
  .attr("text-anchor", "end")
  .attr("font-size", labelSize)
  .text(seriesNames[1]);
key.append("circle")
  .attr("cx", 1062)
  .attr("cy", 71)
  .attr("r", 2.7)
  .attr("fill", colors[1]);
</script>
</body>
</html>
